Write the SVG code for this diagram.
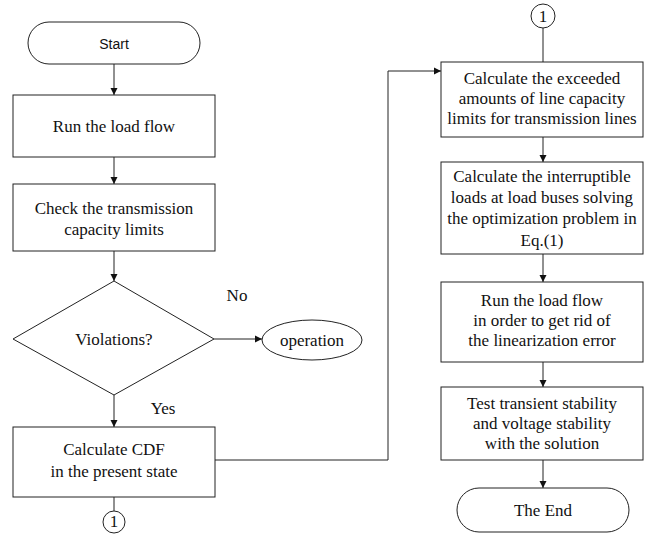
<svg xmlns="http://www.w3.org/2000/svg" width="649" height="534" viewBox="0 0 649 534">
<style>
.s{fill:#fff;stroke:#222;stroke-width:1}
.t{font-family:"Liberation Serif","Times New Roman",serif;font-size:17px;fill:#111;text-anchor:middle}
.c{fill:none;stroke:#222;stroke-width:1}
</style>
<defs>
<marker id="a" viewBox="0 0 10 10" refX="10" refY="5" markerWidth="7" markerHeight="9" markerUnits="userSpaceOnUse" orient="auto">
<path d="M0,0 L10,5 L0,10 Z" fill="#111"/>
</marker>
</defs>
<rect width="649" height="534" fill="#fff"/>
<g id="connectors">
<path class="c" d="M114,64 V95" marker-end="url(#a)"/>
<path class="c" d="M114,157 V184" marker-end="url(#a)"/>
<path class="c" d="M114,251 V281" marker-end="url(#a)"/>
<path class="c" d="M214,339 H262" marker-end="url(#a)"/>
<path class="c" d="M114,395 V427" marker-end="url(#a)"/>
<path class="c" d="M214,460 H388 V71 H441" marker-end="url(#a)"/>
<path class="c" d="M114,497 V511"/>
<path class="c" d="M543,28 V62"/>
<path class="c" d="M543,137 V162" marker-end="url(#a)"/>
<path class="c" d="M543,254 V282" marker-end="url(#a)"/>
<path class="c" d="M543,362 V387" marker-end="url(#a)"/>
<path class="c" d="M543,460 V488" marker-end="url(#a)"/>
<text class="t" x="237" y="301">No</text>
<text class="t" x="163" y="414">Yes</text>
</g>
<g id="start">
<rect class="s" x="28" y="22" width="172" height="42" rx="21"/>
<text x="114" y="49" font-family="Liberation Sans,Arial,sans-serif" font-size="14" text-anchor="middle" fill="#111">Start</text>
</g>
<g id="runflow">
<rect class="s" x="13" y="95" width="202" height="62"/>
<text class="t" x="114" y="132">Run the load flow</text>
</g>
<g id="check">
<rect class="s" x="13" y="184" width="202" height="67"/>
<text class="t" x="114" y="214">Check the transmission</text>
<text class="t" x="114" y="235">capacity limits</text>
</g>
<g id="violations">
<polygon class="s" points="114,281 214,339 114,395 13,339"/>
<text class="t" x="114" y="345">Violations?</text>
</g>
<g id="operation">
<ellipse class="s" cx="312" cy="340" rx="50" ry="20"/>
<text class="t" x="312" y="346">operation</text>
</g>
<g id="cdf">
<rect class="s" x="13" y="427" width="202" height="70"/>
<text class="t" x="114" y="455">Calculate CDF</text>
<text class="t" x="114" y="477">in the present state</text>
</g>
<g id="conn1bottom">
<circle class="s" cx="114" cy="522" r="11"/>
<text class="t" x="114" y="527" font-size="14">1</text>
</g>
<g id="conn1top">
<circle class="s" cx="543" cy="16" r="12"/>
<text class="t" x="543" y="22" font-size="14">1</text>
</g>
<g id="exceeded">
<rect class="s" x="441" y="62" width="202" height="75"/>
<text class="t" x="542" y="84">Calculate the exceeded</text>
<text class="t" x="542" y="104">amounts of line capacity</text>
<text class="t" x="542" y="124">limits for transmission lines</text>
</g>
<g id="interruptible">
<rect class="s" x="441" y="162" width="202" height="92"/>
<text class="t" x="542" y="182">Calculate the interruptible</text>
<text class="t" x="542" y="203">loads at load buses solving</text>
<text class="t" x="542" y="224">the optimization problem in</text>
<text class="t" x="542" y="246">Eq.(1)</text>
</g>
<g id="runflow2">
<rect class="s" x="441" y="282" width="202" height="80"/>
<text class="t" x="542" y="306">Run the load flow</text>
<text class="t" x="542" y="326">in order to get rid of</text>
<text class="t" x="542" y="346">the linearization error</text>
</g>
<g id="test">
<rect class="s" x="441" y="387" width="202" height="73"/>
<text class="t" x="542" y="409">Test transient stability</text>
<text class="t" x="542" y="429">and voltage stability</text>
<text class="t" x="542" y="449">with the solution</text>
</g>
<g id="end">
<rect class="s" x="457" y="488" width="172" height="44" rx="22"/>
<text class="t" x="543" y="516">The End</text>
</g>
</svg>
